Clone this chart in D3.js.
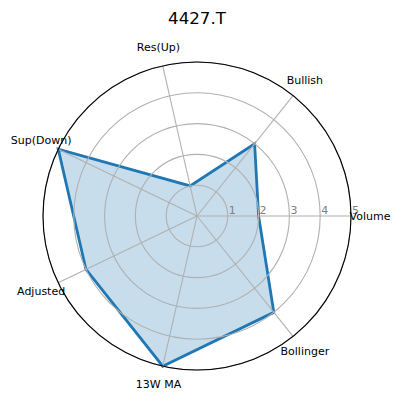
<!DOCTYPE html>
<html>
<head>
<meta charset="utf-8">
<script src="https://cdn.jsdelivr.net/npm/d3@7"></script>
<style>
  html, body { margin: 0; padding: 0; background: #fff; }
  svg { display: block; font-family: "DejaVu Sans", sans-serif; }
</style>
</head>
<body>
<div id="chart"></div>
<script>
/* data */
const title = "4427.T";
const categories = ["Volume", "Bullish", "Res(Up)", "Sup(Down)", "Adjusted", "13W MA", "Bollinger"];
const values = [2, 3, 1, 5, 4, 5, 4];
const radialTicks = [1, 2, 3, 4, 5];

/* layout */
const width = 401;
const height = 401;
const cx = 197;
const cy = 216;
const radius = 154;

const svg = d3.select("#chart").append("svg")
    .attr("width", width)
    .attr("height", height);

const rScale = d3.scaleLinear().domain([0, 5]).range([0, radius]);
// math angle, counter-clockwise from east
const aScale = d3.scaleLinear().domain([0, categories.length]).range([0, 2 * Math.PI]);

const px = (a, r) => cx + r * Math.cos(a);
const py = (a, r) => cy - r * Math.sin(a);

const g = svg.append("g");

// filled area (below the grid, like matplotlib)
const radial = d3.lineRadial()
    .angle((d, i) => Math.PI / 2 - aScale(i))
    .radius(d => rScale(d))
    .curve(d3.curveLinearClosed);

const plot = g.append("g").attr("transform", `translate(${cx},${cy})`);

plot.append("path")
    .attr("d", radial(values))
    .attr("fill", "#1f77b4")
    .attr("fill-opacity", 0.25)
    .attr("stroke", "none");

// grid circles
g.selectAll("circle.grid")
    .data(radialTicks)
    .enter().append("circle")
    .attr("class", "grid")
    .attr("cx", cx)
    .attr("cy", cy)
    .attr("r", d => rScale(d))
    .attr("fill", "none")
    .attr("stroke", "#b0b0b0")
    .attr("stroke-width", 1.1);

// spokes
g.selectAll("line.spoke")
    .data(categories)
    .enter().append("line")
    .attr("class", "spoke")
    .attr("x1", cx)
    .attr("y1", cy)
    .attr("x2", (d, i) => px(aScale(i), rScale(5)))
    .attr("y2", (d, i) => py(aScale(i), rScale(5)))
    .attr("stroke", "#b0b0b0")
    .attr("stroke-width", 1.1);

// radial tick labels
g.selectAll("text.rtick")
    .data(radialTicks)
    .enter().append("text")
    .attr("class", "rtick")
    .attr("x", d => cx + rScale(d) + 1)
    .attr("y", cy - 2)
    .attr("font-size", 11)
    .attr("fill", "#808080")
    .text(d => d);

// data line
plot.append("path")
    .attr("d", radial(values))
    .attr("fill", "none")
    .attr("stroke", "#1f77b4")
    .attr("stroke-width", 2.8)
    .attr("stroke-linejoin", "miter");

// outer spine
g.append("circle")
    .attr("cx", cx)
    .attr("cy", cy)
    .attr("r", radius)
    .attr("fill", "none")
    .attr("stroke", "#000")
    .attr("stroke-width", 1.1);

// category labels
g.selectAll("text.cat")
    .data(categories)
    .enter().append("text")
    .attr("class", "cat")
    .attr("x", (d, i) => px(aScale(i), radius + 19))
    .attr("y", (d, i) => py(aScale(i), radius + 19))
    .attr("text-anchor", "middle")
    .attr("dominant-baseline", "central")
    .attr("font-size", 11)
    .attr("fill", "#000")
    .text(d => d);

// title
svg.append("text")
    .attr("x", cx)
    .attr("y", 24)
    .attr("text-anchor", "middle")
    .attr("font-size", 16.7)
    .attr("fill", "#000")
    .text(title);
</script>
</body>
</html>
